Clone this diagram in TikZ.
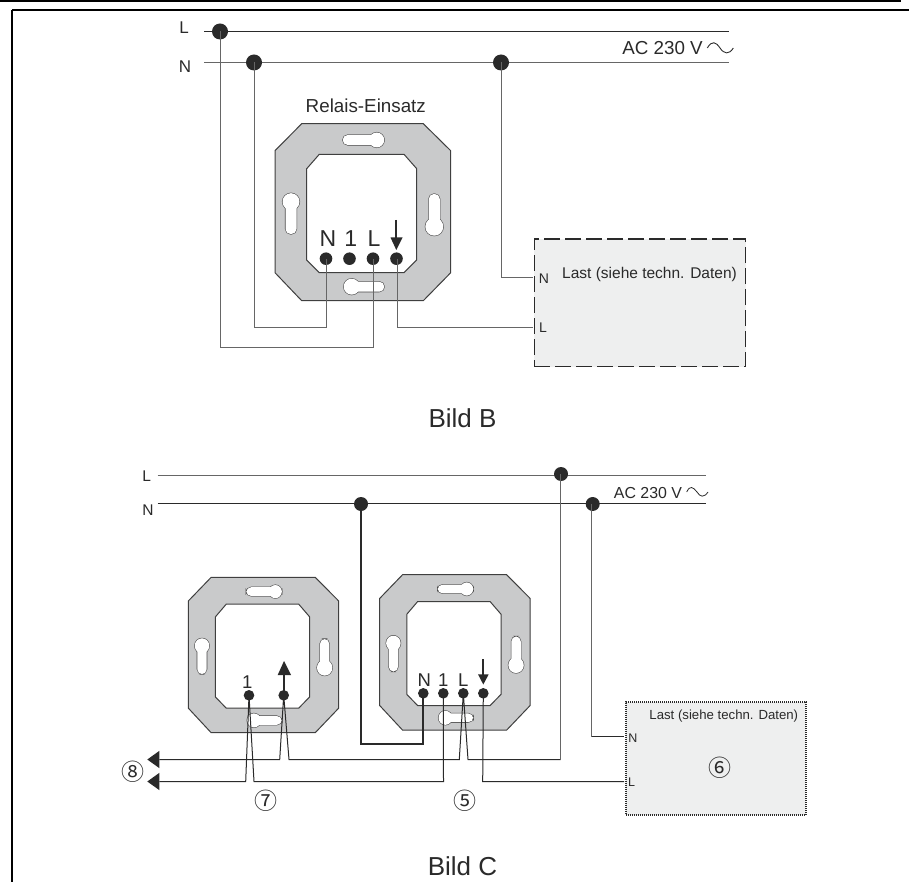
\documentclass[tikz,border=0pt]{standalone}
\usepackage{fontspec}
\setmainfont{Liberation Sans}
\newfontfamily\symfont{Noto Sans CJK SC}
\definecolor{plategray}{HTML}{C9CACB}
\definecolor{loadgray}{HTML}{EEEFEF}
\definecolor{ink}{HTML}{2A2A2A}
\definecolor{wiregray}{HTML}{666666}
\newcommand{\fsz}[1]{\fontsize{#1}{#1}\selectfont}
\newcommand{\keyhole}[6]{% cx cy r  x0 y0 x1 y1 slot rectangle
  \draw[holeline] (#1,#2) circle (#3);
  \draw[holeline,rounded corners=#6pt] #4;
  \fill[white] (#1,#2) circle (#3);
  \fill[white,rounded corners=#6pt] #4;
}
\newcommand{\plateshape}{%
  \draw[plateline,fill=plategray] (26.7,0) -- (148.3,0) -- (175.7,27) -- (175.7,149) -- (148.3,177) -- (26.7,177) -- (0,149) -- (0,27) -- cycle;
  \draw[plateline,fill=white] (44.3,30.6) -- (129,30.6) -- (141.7,45) -- (141.7,136.3) -- (129,149) -- (44.3,149) -- (31.7,136.3) -- (31.7,45) -- cycle;
  \keyhole{101.7}{16.3}{7.5}{(67.7,11.3) rectangle (109.3,21.3)}{}{5}
  \keyhole{76.7}{163}{8}{(70,158) rectangle (109.3,168)}{}{5}
  \keyhole{16}{78}{8.5}{(10.5,70) rectangle (21.5,110.3)}{}{5}
  \keyhole{159.3}{103}{9}{(153.8,70.3) rectangle (164.8,110)}{}{5}
}
\tikzset{
  holeline/.style={draw=ink!85,line width=1.1pt},
  plateline/.style={draw=ink!90,line width=1pt,line join=miter},
  wire/.style={draw=ink,line width=1pt},
  wiregrey/.style={draw=wiregray,line width=1pt},
  wirethick/.style={draw=ink,line width=1.7pt},
  rail/.style={draw=wiregray,line width=1.3pt},
  dotbig/.style={circle,fill=ink,inner sep=0pt,minimum size=16pt},
  dotmid/.style={circle,fill=ink,inner sep=0pt,minimum size=14pt},
  dotsmall/.style={circle,fill=ink,inner sep=0pt,minimum size=12.6pt},
  dottiny/.style={circle,fill=ink,inner sep=0pt,minimum size=10.6pt},
  lbl/.style={inner sep=0pt,text=ink,anchor=center},
  frame/.style={draw=black,line width=2.6pt},
  loadA/.style={draw=ink,fill=loadgray,line width=1.4pt,dash pattern=on 16pt off 5pt,inner sep=0pt,anchor=north west,minimum width=211.5pt,minimum height=127.7pt},
  loadB/.style={draw=ink,fill=loadgray,line width=2pt,dash pattern=on 1pt off 1pt,inner sep=0pt,anchor=north west,minimum width=180pt,minimum height=113pt},
  headfill/.style={fill=ink,draw=none},
  acwave/.style={draw=ink,line width=.9pt},
  termarrow/.style={draw=ink,line width=1.7pt},
}
\begin{document}
\begin{tikzpicture}[x=1pt,y=-1pt]
\useasboundingbox (0,0) rectangle (909,882);
% page frame
\coordinate (f1) at (0,1);
\coordinate (f2) at (901,1);
\coordinate (f3) at (12,10);
\coordinate (f4) at (909,10);
\coordinate (f5) at (12,882);
\draw[frame] (f1) -- (f2);
\draw[frame] (f3) -- (f4);
\draw[frame] (f3) -- (f5);

% ---------- Bild B ----------
\begin{scope}[shift={(275,123.7)}]\plateshape\end{scope}
\node[loadA] (loadb) at (533.5,238.3) {};
\coordinate (bLs) at (204,31.5);
\coordinate (bLe) at (729,31.5);
\coordinate (bNs) at (204,62.5);
\coordinate (bNe) at (729,62.5);
\draw[wire] (bLs) -- (bLe);
\draw[rail] (bNs) -- (bNe);
\node[dotbig] (bd1) at (220,31.5) {};
\node[dotbig] (bd2) at (254,62.5) {};
\node[dotbig] (bd3) at (501,62.5) {};
\node[dotsmall] (btN) at (326,258.7) {};
\node[dotsmall] (bt1) at (349.5,258.7) {};
\node[dotsmall] (btL) at (373,258.7) {};
\node[dotsmall] (btA) at (396.5,258.7) {};
\coordinate (bjL) at (220.5,347.5);
\coordinate (bjN) at (254.5,327.5);
\coordinate (bjA) at (397.5,327.5);
\coordinate (bjLoadN) at (533,277.5);
\coordinate (bjLoadL) at (533,327.5);
\draw[wiregrey] (220.5,31.5) -- (bjL) -| (btL.center);
\draw[wiregrey] (254.5,62.5) -- (bjN) -| (btN.center);
\draw[wiregrey] (397.5,258.7) -- (bjA) -- (bjLoadL);
\draw[wiregrey] (bd3.center) |- (bjLoadN);
\node[lbl,font=\fsz{17}] (bl1) at (184,28) {L};
\node[lbl,font=\fsz{17}] (bl2) at (185,66.7) {N};
\node[lbl,font=\fsz{18.8}] (bac) at (662.5,48) {AC 230 V};
\coordinate (bw1) at (707.3,48);
\coordinate (bw2) at (733.3,48);
\draw[acwave] (bw1) .. controls (712,40) and (716,42) .. (720,48) .. controls (724,54) and (729,55) .. (bw2);
\node[lbl,font=\fsz{18.8}] (brel) at (365.8,105.7) {Relais-Einsatz};
\node[lbl,font=\fsz{23}] (btxN) at (328,239) {N};
\node[lbl,font=\fsz{23}] (btx1) at (350.7,239) {1};
\node[lbl,font=\fsz{23}] (btxL) at (374,239) {L};
\coordinate (barT) at (396.3,220);
\coordinate (barB) at (396.3,238);
\draw[termarrow] (barT) -- (barB);
\fill[headfill] (390.5,237.5) -- (402.5,237.5) -- (396.3,250) -- cycle;
\node[lbl,font=\fsz{15.5}] (bloadtxt) at (649.5,274) {Last (siehe techn. Daten)};
\node[lbl,font=\fsz{14}] (bloadN) at (544,279) {N};
\node[lbl,font=\fsz{14}] (bloadL) at (543,328) {L};
\node[lbl,font=\fsz{26}] (bildb) at (462.5,418) {Bild B};

% ---------- Bild C ----------
\begin{scope}[shift={(188.3,577.3)},xscale=.856,yscale=.878]\plateshape\end{scope}
\begin{scope}[shift={(379.7,574.7)},xscale=.856,yscale=.878]\plateshape\end{scope}
\node[loadB] (loadc) at (624.5,700.5) {};
\coordinate (cLs) at (157.7,475.7);
\coordinate (cLe) at (705.7,475.7);
\coordinate (cNs) at (157.7,503.5);
\coordinate (cNe) at (705.7,503.5);
\draw[rail] (cLs) -- (cLe);
\draw[wire,line width=1.1pt] (cNs) -- (cNe);
\node[dotmid] (cd1) at (361,504) {};
\node[dotmid] (cd2) at (561,474) {};
\node[dotmid] (cd3) at (592.7,504) {};
\node[dottiny] (ca1) at (249,695.3) {};
\node[dottiny] (caA) at (283.7,695.3) {};
\node[dottiny] (ctN) at (423.3,693.3) {};
\node[dottiny] (ct1) at (443.3,693.3) {};
\node[dottiny] (ctL) at (463.3,693.3) {};
\node[dottiny] (ctA) at (483.3,693.3) {};
% arrow ends
\coordinate (tip1) at (159.3,759.5);
\coordinate (tip2) at (159.3,781.5);
\fill[headfill] (tip1) ++(0,-8.6) -- ++(0,17.2) -- ++(-12,-8.6) -- cycle;
\fill[headfill] (tip2) ++(0,-8.6) -- ++(0,17.2) -- ++(-12,-8.6) -- cycle;
\coordinate (j1) at (279.7,759.5);
\coordinate (j2) at (289,759.5);
\coordinate (j3) at (459.3,759.5);
\coordinate (j4) at (468,759.5);
\coordinate (j5) at (560.5,759.5);
\coordinate (j6) at (245.7,781.5);
\coordinate (j7) at (254,781.5);
\coordinate (j8) at (443.5,781.5);
\coordinate (j9) at (482.7,781.5);
\coordinate (j10) at (624,781.5);
\coordinate (j11) at (361,744.3);
\coordinate (j12) at (423.3,744.3);
\coordinate (j13) at (591.5,736.5);
\coordinate (j14) at (624,736.5);
\coordinate (j15) at (560.5,474);
\draw[wire] (tip1) -- (j1) -- (caA.center) -- (j2) -- (j3) -- (ctL.center) -- (j4) -- (j5);
\draw[wiregrey] (j5) -- (j15);
\draw[wire] (tip2) -- (j6) -- (ca1.center) -- (j7) -- (j8) -- (ct1.center);
\draw[wire] (ctA.center) -- (j9) -- (j10);
\draw[wirethick] (ctN.center) -- (j12) -- (j11) -- (cd1.center);
\draw[wiregrey] (591.5,504) -- (j13);
\draw[wire] (j13) -- (j14);
\node[lbl,font=\fsz{15.5}] (cl1) at (146.7,476) {L};
\node[lbl,font=\fsz{15.5}] (cl2) at (148,510) {N};
\node[lbl,font=\fsz{15.9}] (cac) at (648,493) {AC 230 V};
\coordinate (cw1) at (686.7,492);
\coordinate (cw2) at (708,492);
\draw[acwave,line width=.8pt] (cw1) .. controls (690,485) and (693,487) .. (697,492) .. controls (700,497) and (704,498) .. (cw2);
\node[lbl,font=\fsz{18.5}] (ctxt1) at (247.3,681.7) {1};
\node[lbl,font=\fsz{18.5}] (ctxN) at (424.3,680) {N};
\node[lbl,font=\fsz{18.5}] (ctx1) at (443.3,680) {1};
\node[lbl,font=\fsz{18.5}] (ctxL) at (463.3,680) {L};
\coordinate (uaB) at (283.7,695);
\coordinate (uaT) at (283.7,674);
\draw[termarrow] (uaB) -- (uaT);
\fill[headfill] (277.7,675) -- (291,675) -- (284,661) -- cycle;
\coordinate (daT) at (483.3,659);
\coordinate (daB) at (483.3,675);
\draw[termarrow] (daT) -- (daB);
\fill[headfill] (478,674.3) -- (488.7,674.3) -- (483.3,684.5) -- cycle;
\node[lbl,font=\fsz{13.2}] (cloadtxt) at (723.8,716) {Last (siehe techn. Daten)};
\node[lbl,font=\fsz{12.5}] (cloadN) at (633,738) {N};
\node[lbl,font=\fsz{12.5}] (cloadL) at (631.7,781.7) {L};
\node[lbl,font=\fsz{23}\symfont] (n6) at (720,767.7) {⑥};
\node[lbl,font=\fsz{23}\symfont] (n5) at (464.7,800.7) {⑤};
\node[lbl,font=\fsz{23}\symfont] (n7) at (266,800.7) {⑦};
\node[lbl,font=\fsz{23}\symfont] (n8) at (133,772) {⑧};
\node[lbl,font=\fsz{26}] (bildc) at (462.5,866) {Bild C};
\end{tikzpicture}
\end{document}
